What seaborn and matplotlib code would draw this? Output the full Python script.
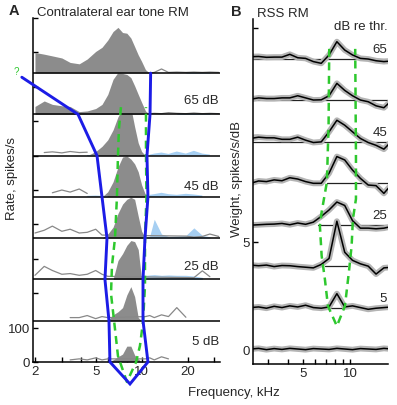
import numpy as np
import matplotlib
matplotlib.use("Agg")
import matplotlib.pyplot as plt
import seaborn as sns
from matplotlib.ticker import FixedLocator, NullFormatter, FixedFormatter

sns.set_style("ticks")
plt.rcParams['font.family'] = ['Liberation Sans', 'DejaVu Sans']
plt.rcParams['font.size'] = 9.5

nan = float('nan')

# ---------------- panel A: contralateral ear tone response map ----------------
freq_a = [2.0, 2.3, 2.6, 3.0, 3.4, 3.9, 4.4, 5.0, 5.5, 6.0, 6.5, 7.0, 7.5, 8.0, 8.5,
          9.0, 9.5, 10.0, 10.6, 11.3, 12.1, 13.5, 15.0, 17.0, 19.5, 22.0, 25.0, 28.0, 32.0]
levels_a = [75, 65, 55, 45, 35, 25, 15, 5]

# driven rate (spikes/s), grey area
fill_75 = [60, 55, 50, 44, 31, 27, 41, 63, 75, 96, 121, 133, 118, 116, 102, 77, 53, 34, 10, 0,
           0, 0, 0, 0, 0, 0, 0, 0, 0]
fill_65 = [23, 39, 29, 25, 23, 8, 10, 17, 29, 58, 102, 122, 119, 116, 107, 83, 58, 35, 10, 0,
           0, 0, 0, 0, 0, 0, 0, 0, 0]
fill_55 = [0, 0, 0, 0, 0, 0, 0, 12, 27, 46, 75, 113, 136, 145, 139, 84, 37, 12, 0, 0,
           0, 0, 0, 0, 0, 0, 0, 0, 0]
fill_45 = [0, 0, 0, 0, 0, 0, 0, 0, 0, 15, 44, 87, 116, 119, 110, 96, 73, 35, 6, 0,
           0, 0, 0, 0, 0, 0, 0, 0, 0]
fill_35 = [0, 0, 0, 0, 0, 0, 0, 0, 0, 12, 32, 72, 99, 113, 119, 113, 64, 20, 0, 0,
           0, 0, 0, 0, 0, 0, 0, 0, 0]
fill_25 = [0, 0, 0, 0, 0, 0, 0, 0, 0, 0, 0, 55, 75, 99, 113, 110, 87, 0, 0, 0,
           0, 0, 0, 0, 0, 0, 0, 0, 0]
fill_15 = [0, 0, 0, 0, 0, 0, 0, 0, 0, 0, 17, 26, 38, 75, 99, 70, 9, 0, 0, 0,
           0, 0, 0, 0, 0, 0, 0, 0, 0]
fill_5 = [0, 0, 0, 0, 0, 0, 0, 0, 0, 0, 6, 15, 23, 46, 46, 20, 9, 0, 0, 0,
          0, 0, 0, 0, 0, 0, 0, 0, 0]

# rates outside the driven region (grey outline)
spont_75 = [nan, nan, nan, nan, nan, nan, nan, nan, nan, nan, nan, nan, nan, nan, nan, nan, nan, nan, nan,
            0, 2, 12, 2, 3, 2, 3, 2, 3, 2]
spont_65 = [nan, nan, nan, nan, nan, nan, nan, nan, nan, nan, nan, nan, nan, nan, nan, nan, nan, nan, nan,
            2, 3, 2, 5, 3, 2, 4, 2, 3, 2]
spont_55 = [nan, 9, 11, 8, 12, 9, 10, nan, nan, nan, nan, nan, nan, nan, nan, nan, nan, nan, nan,
            nan, nan, nan, nan, nan, nan, nan, nan, nan, nan]
spont_45 = [nan, nan, 12, 20, 14, 23, 10, nan, nan, nan, nan, nan, nan, nan, nan, nan, nan, nan, nan,
            nan, nan, nan, nan, nan, nan, nan, nan, nan, nan]
spont_35 = [15, 23, 35, 20, 26, 15, 17, 26, 9, nan, nan, nan, nan, nan, nan, nan, nan, nan, nan,
            nan, nan, nan, nan, nan, 6, 3, 5, 12, 5]
spont_25 = [12, 38, 26, 15, 17, 12, 15, 26, 15, 9, nan, nan, nan, nan, nan, nan, nan, nan, nan,
            nan, nan, nan, nan, nan, nan, 5, 25, 8, nan]
spont_15 = [nan, nan, nan, nan, 9, 9, 15, 6, 12, 9, nan, nan, nan, nan, nan, nan, nan, nan, 12,
            15, 9, 17, 12, 38, 10, nan, nan, nan, nan]
spont_5 = [nan, nan, nan, nan, 6, 9, 6, 12, 6, 9, nan, nan, nan, nan, nan, nan, nan, nan, 9,
           12, 6, 15, 9, nan, nan, nan, nan, nan, nan]

# rate below spontaneous (light blue)
inh_75 = [nan, nan, nan, nan, nan, nan, nan, nan, nan, nan, nan, nan, nan, nan, nan, nan, nan, nan, nan,
          nan, nan, nan, nan, nan, 2, 3, 2, 3, nan]
inh_65 = [nan, nan, nan, nan, nan, nan, nan, nan, nan, nan, nan, nan, nan, nan, nan, nan, nan, nan, nan,
          nan, nan, nan, nan, 2, 4, 3, 2, 3, nan]
inh_55 = [nan, nan, nan, nan, nan, nan, 3, 3, nan, nan, nan, nan, nan, nan, nan, nan, nan, nan, nan,
          3, 6, 9, 5, 12, 6, 14, 6, 3, nan]
inh_45 = [nan, nan, nan, nan, nan, nan, 3, 4, 3, 3, nan, nan, nan, nan, nan, nan, nan, nan, nan,
          6, 8, 12, 8, 6, 9, 7, 4, nan, nan]
inh_35 = [nan, nan, nan, nan, nan, nan, nan, nan, nan, nan, nan, nan, nan, nan, nan, nan, nan, nan, 3,
          6, 55, 12, 5, 6, 8, 30, 8, 4, nan]
inh_25 = [nan, nan, nan, nan, nan, nan, nan, nan, nan, nan, nan, nan, nan, nan, nan, nan, nan, nan, 12,
          13, 14, 12, 13, 12, 12, 10, 6, nan, nan]

fills_a = [fill_75, fill_65, fill_55, fill_45, fill_35, fill_25, fill_15, fill_5]
sponts_a = [spont_75, spont_65, spont_55, spont_45, spont_35, spont_25, spont_15, spont_5]
inhs_a = [inh_75, inh_65, inh_55, inh_45, inh_35, inh_25, None, None]

# tuning boundary (blue) and green dashed curve, (kHz, stacked rate units)
blue_f = [1.64, 3.83, 5.10, 5.50, 5.93, 5.75, 6.11, 6.20, 8.39,
          11.0, 10.21, 10.21, 10.52, 11.0, 10.84, 11.35, 11.46]
blue_y = [828, 720, 600, 480, 360, 240, 120, 0, -64,
          0, 120, 240, 360, 480, 600, 720, 840]
green_a_f = [7.32, 7.10, 7.00, 6.89, 6.69, 6.39, 6.30, 6.69, 7.00, 8.01,
             9.20, 9.75, 10.21, 10.52, 10.52, 10.76, 10.68, 10.68]
green_a_y = [741, 677, 602, 480, 360, 279, 198, 96, 17, -58,
             0, 47, 116, 221, 360, 480, 602, 741]

# ---------------- panel B: RSS response map weights ----------------
freq_b = [2.31, 2.60, 2.92, 3.27, 3.67, 4.12, 4.63, 5.20, 5.83, 6.55, 7.35, 8.25, 9.26,
          10.39, 11.67, 13.10, 14.70, 16.50, 18.52]
w65 = [0.11, 0.12, 0.08, 0.09, 0.09, 0.22, 0.06, 0.03, -0.12, -0.20, 0.19, 0.81, 0.42,
       0.19, 0.03, 0.00, -0.08, -0.12, -0.09]
w55 = [0.06, 0.12, 0.09, 0.09, 0.12, 0.12, 0.22, 0.12, 0.02, 0.03, 0.22, 0.80, 0.47,
       0.22, 0.02, -0.06, -0.25, -0.34, 0.00]
w45 = [0.16, 0.22, 0.19, 0.19, 0.12, 0.12, 0.22, 0.08, -0.03, 0.00, 0.47, 1.01, 0.78,
       0.47, 0.16, -0.03, -0.16, -0.34, 0.03]
w35 = [0.00, 0.11, 0.08, 0.16, 0.12, 0.26, 0.20, 0.08, 0.00, 0.00, 0.47, 1.25, 1.09,
       0.62, 0.23, -0.08, -0.11, -0.47, -0.05]
w25 = [-0.02, 0.00, 0.02, 0.03, 0.06, 0.00, 0.08, 0.02, 0.12, 0.39, 0.69, 1.06, 0.90,
       0.19, -0.16, -0.16, -0.19, -0.16, -0.08]
w15 = [0.05, 0.02, 0.05, -0.02, 0.03, 0.02, -0.02, -0.05, -0.08, 0.08, 0.36, 2.10, 0.65,
       0.27, 0.11, 0.00, -0.37, -0.08, -0.05]
w5 = [0.00, 0.03, -0.03, 0.06, 0.00, 0.08, 0.03, 0.11, 0.00, -0.03, 0.03, 0.65, 0.03,
      0.08, 0.00, -0.08, -0.03, 0.00, 0.03]
w0 = [0.00, 0.03, -0.03, 0.02, -0.02, 0.03, 0.00, -0.03, 0.02, 0.00, -0.02, 0.03, 0.00,
      -0.03, 0.02, 0.00, -0.02, 0.03, 0.00]
weights_b = [w65, w55, w45, w35, w25, w15, w5, w0]
base_lo_b = [2.39, 2.39, 2.39, 7.12, 6.24, 6.91, 7.44, nan]
base_hi_b = [17.5, 17.5, 17.5, 17.5, 17.5, 9.56, 9.0, nan]

green_b_f = [7.37, 7.30, 7.12, 6.59, 6.42, 6.59, 6.91, 7.23, 8.25,
             9.29, 9.85, 10.25, 10.45, 10.93, 10.93, 10.81]
green_b_y = [14.02, 10.5, 7.8, 6.40, 5.75, 4.35, 3.27, 2.01, 1.07,
             2.01, 3.60, 4.81, 6.07, 7.01, 9.0, 14.02]

# ---------------- figure ----------------
fig = plt.figure(figsize=(3.97, 4.06), dpi=100)
axA = fig.add_axes([0.083, 0.106, 0.471, 0.847])
axB = fig.add_axes([0.637, 0.101, 0.340, 0.850])

grey = '#8c8c8c'
lblue = '#a6cff2'
green = '#2ec82e'
blue = '#1c1ce6'

step_a = 120
axA.set_xscale('log')
for i, lev in enumerate(levels_a):
    off = step_a * (len(levels_a) - 1 - i)
    axA.fill_between(freq_a, off, np.array(fills_a[i]) + off, color=grey, lw=0, zorder=1)
    if inhs_a[i] is not None:
        axA.fill_between(freq_a, off, np.array(inhs_a[i]) + off, color=lblue, lw=0, zorder=1)
    sns.lineplot(x=freq_a, y=np.array(sponts_a[i]) + off, ax=axA, color='#888888', lw=0.9,
                 sort=False, zorder=2)
    if off > 0:
        axA.axhline(off, color='k', lw=1.1, zorder=3)

axA.plot(green_a_f, green_a_y, color=green, lw=1.8, dashes=(3.2, 2.2), clip_on=False, zorder=4)
axA.plot(blue_f, blue_y, color=blue, lw=2.1, clip_on=False, zorder=5, solid_joinstyle='miter')
axA.text(1.52, 846, '?', color=green, fontsize=7, ha='center', va='center', clip_on=False)

for lev, yy in [(65, 762), (45, 512), (25, 279), (5, 61)]:
    axA.text(0.995, yy, f'{lev} dB', transform=axA.get_yaxis_transform(), ha='right', va='center',
             fontsize=9.5)

axA.set_xlim(1.94, 32.6)
axA.set_ylim(0, 1000)
axA.xaxis.set_major_locator(FixedLocator([2, 5, 10, 20]))
axA.xaxis.set_major_formatter(FixedFormatter(['2', '5', '10', '20']))
axA.xaxis.set_minor_locator(FixedLocator([3, 4, 6, 7, 8, 9, 30]))
axA.xaxis.set_minor_formatter(NullFormatter())
axA.yaxis.set_major_locator(FixedLocator([0, 100]))
axA.yaxis.set_minor_locator(FixedLocator([200, 300, 400, 500, 600, 700, 800, 900, 1000]))

step_b = 1.935
axB.set_xscale('log')
for i, w in enumerate(weights_b):
    off = step_b * (len(weights_b) - 1 - i)
    if not np.isnan(base_lo_b[i]):
        axB.plot([base_lo_b[i], base_hi_b[i]], [off, off], color='#222222', lw=0.9, zorder=1)
    y = np.array(w) + off
    sns.lineplot(x=freq_b, y=y, ax=axB, color='#b4b4b4', lw=4.2, sort=False, zorder=2,
                 solid_joinstyle='round', solid_capstyle='round')
    sns.lineplot(x=freq_b, y=y, ax=axB, color='k', lw=1.1, sort=False, zorder=3)

axB.plot(green_b_f, green_b_y, color=green, lw=1.8, dashes=(3.2, 2.2), zorder=4)
for lev, yy in [('65', 14.02), ('45', 10.14), ('25', 6.26), ('5', 2.38)]:
    axB.text(0.995, yy, lev, transform=axB.get_yaxis_transform(), ha='right', va='center',
             fontsize=9.5)
axB.text(0.995, 15.1, 'dB re thr.', transform=axB.get_yaxis_transform(), ha='right',
         va='center', fontsize=9.5)

axB.set_xlim(2.39, 17.5)
axB.set_ylim(-0.70, 15.42)
axB.xaxis.set_major_locator(FixedLocator([5, 10]))
axB.xaxis.set_major_formatter(FixedFormatter(['5', '10']))
axB.xaxis.set_minor_locator(FixedLocator([3, 4, 6, 7, 8, 9]))
axB.xaxis.set_minor_formatter(NullFormatter())
axB.yaxis.set_major_locator(FixedLocator([0, 5]))
axB.yaxis.set_minor_locator(FixedLocator([10, 15]))

for ax in (axA, axB):
    sns.despine(ax=ax)
    ax.set_xlabel('')
    ax.set_ylabel('')
    for s in ('left', 'bottom'):
        ax.spines[s].set_linewidth(1.1)
        ax.spines[s].set_color('k')
    ax.tick_params(which='both', direction='in', length=3.6, width=1.0, color='k',
                   labelsize=9.5, pad=2)

fig.text(0.035, 0.972, 'A', fontsize=10.5, fontweight='bold', ha='center', va='center')
fig.text(0.093, 0.969, 'Contralateral ear tone RM', fontsize=9.5, ha='left', va='center')
fig.text(0.594, 0.971, 'B', fontsize=10.5, fontweight='bold', ha='center', va='center')
fig.text(0.647, 0.966, 'RSS RM', fontsize=9.5, ha='left', va='center')
fig.text(0.030, 0.56, 'Rate, spikes/s', fontsize=9.5, rotation=90, ha='center', va='center')
fig.text(0.596, 0.56, 'Weight, spikes/s/dB', fontsize=9.5, rotation=90, ha='center', va='center')
fig.text(0.59, 0.032, 'Frequency, kHz', fontsize=9.5, ha='center', va='center')

fig.savefig('out.png', dpi=100)
